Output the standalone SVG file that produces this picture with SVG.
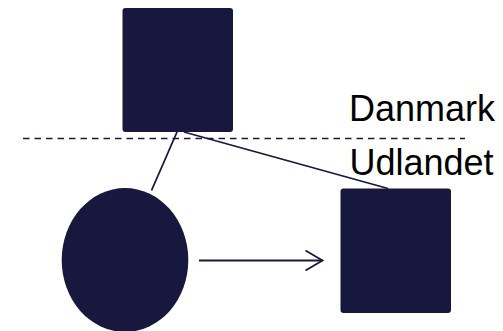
<svg xmlns="http://www.w3.org/2000/svg" width="503" height="331" viewBox="0 0 503 331">
<style>
.node{fill:#18183e;stroke:none}
.conn{stroke:#18183e;stroke-width:1.8;fill:none}
.lbl{font-family:"Liberation Sans",Arial,sans-serif;font-size:36px;fill:#000}
</style>
<defs>
<marker id="open" markerUnits="userSpaceOnUse" markerWidth="22" markerHeight="24" refX="19" refY="11" orient="auto">
<path d="M2,1 L19,11 L2,21" fill="none" stroke="#18183e" stroke-width="1.8"/>
</marker>
</defs>
<line x1="23" y1="138.5" x2="465" y2="138.5" stroke="#18183e" stroke-width="1.6" stroke-dasharray="6.5,5"/>
<g id="connectors">
<line class="conn" x1="177" y1="132" x2="151.5" y2="190.5"/>
<line class="conn" x1="184" y1="132" x2="388" y2="188.5"/>
<line class="conn" x1="199" y1="260.5" x2="322.5" y2="260.5" marker-end="url(#open)"/>
</g>
<g id="top-square"><rect class="node" x="122.5" y="8" width="110.5" height="124" rx="3"/></g>
<g id="circle"><ellipse class="node" cx="125" cy="260" rx="63.3" ry="72"/></g>
<g id="right-square"><rect class="node" x="340.5" y="188.5" width="110.5" height="124.5" rx="3"/></g>
<text class="lbl" x="349" y="120.5">Danmark</text>
<text class="lbl" x="349.5" y="175">Udlandet</text>
</svg>
